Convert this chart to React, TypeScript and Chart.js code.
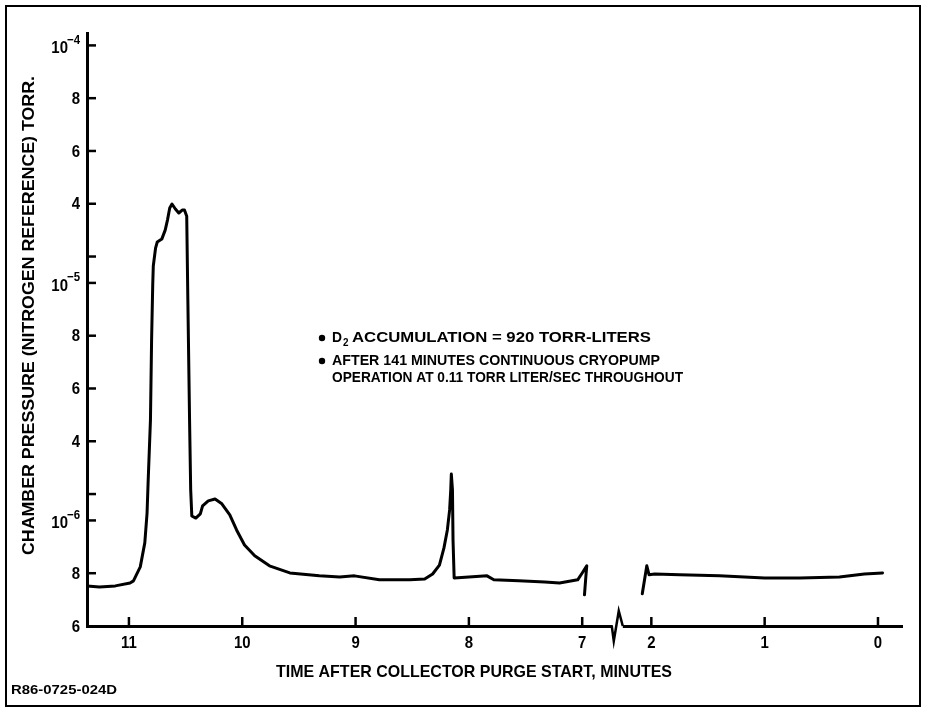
import React, { useEffect, useRef } from "react";
import { Chart, registerables } from "chart.js";

Chart.register(...registerables);

// ---- data (time after collector purge start, minutes; chamber pressure, torr) ----
// segment before the axis break (11 -> 7 minutes)
const leftTimes = [
  11.37, 11.26, 11.12, 10.99, 10.96, 10.9, 10.86, 10.84, 10.83, 10.81, 10.8, 10.79,
  10.785, 10.765, 10.75, 10.71, 10.68, 10.66, 10.64, 10.62, 10.59, 10.56, 10.53, 10.51,
  10.49, 10.48, 10.465, 10.455, 10.445, 10.41, 10.37, 10.35, 10.3, 10.24, 10.18, 10.11,
  10.05, 9.98, 9.89, 9.76, 9.58, 9.32, 9.14, 9.01, 8.79, 8.52, 8.39, 8.32, 8.26, 8.22,
  8.19, 8.17, 8.16, 8.155, 8.145, 8.14, 8.13, 8.0, 7.84, 7.78, 7.56, 7.33, 7.2, 7.04,
  7.0, 6.96, 6.97, 6.98,
];
const leftPressures = [
  7.52e-7, 7.48e-7, 7.52e-7, 7.63e-7, 7.71e-7, 8.24e-7, 9.15e-7, 1.28e-6, 2.53e-6, 4.81e-6, 7.84e-6, 9.92e-6,
  1.64e-5, 2.32e-5, 2.55e-5, 2.66e-5, 3.0e-5, 3.38e-5, 3.84e-5, 3.99e-5, 3.8e-5, 3.65e-5, 3.76e-5, 3.76e-5,
  3.53e-5, 9.35e-6, 4.81e-6, 2.16e-6, 1.17e-6, 1.09e-6, 1.25e-6, 1.55e-6, 1.74e-6, 1.81e-6, 1.63e-6, 1.21e-6,
  9.64e-7, 9.07e-7, 8.66e-7, 8.28e-7, 8.01e-7, 7.9e-7, 7.86e-7, 7.9e-7, 7.75e-7, 7.75e-7, 7.78e-7, 7.97e-7, 8.31e-7, 8.96e-7,
  9.64e-7, 1.4e-6, 2.16e-6, 2.76e-6, 2.16e-6, 9.26e-7, 7.82e-7, 7.86e-7, 7.9e-7, 7.75e-7, 7.71e-7, 7.67e-7, 7.63e-7, 7.75e-7,
  8.01e-7, 8.28e-7, 7.75e-7, 7.18e-7,
];
// segment after the axis break (2 -> 0 minutes)
const rightTimes = [2.08, 2.06, 2.04, 2.02, 1.97, 1.75, 1.4, 1.0, 0.69, 0.34, 0.12, -0.04];
const rightPressures = [7.22e-7, 7.75e-7, 8.28e-7, 7.94e-7, 7.97e-7, 7.94e-7, 7.9e-7, 7.82e-7, 7.82e-7, 7.86e-7, 7.97e-7, 8.01e-7];

const xTickValues = [11, 10, 9, 8, 7, 2, 1, 0];
const xTickLabels = ["11", "10", "9", "8", "7", "2", "1", "0"];
const yTickValues = [1e-4, 8e-5, 6e-5, 4e-5, 2e-5, 1e-5, 8e-6, 6e-6, 4e-6, 2e-6, 1e-6, 8e-7, 6e-7];
const yTickLabels = ["10|-4", "8", "6", "4", "", "10|-5", "8", "6", "4", "", "10|-6", "8", "6"];

const yTitle = "CHAMBER PRESSURE (NITROGEN REFERENCE) TORR.";
const xTitle = "TIME AFTER COLLECTOR PURGE START, MINUTES";
const noteLines = [
  "ACCUMULATION = 920 TORR-LITERS",
  "AFTER 141 MINUTES CONTINUOUS CRYOPUMP",
  "OPERATION AT 0.11 TORR LITER/SEC THROUGHOUT",
];
const figureId = "R86-0725-024D";

// ---- axis transforms ----
const BREAK_HIGH = 7;
const BREAK_LOW = 2;
const BREAK_GAP = 0.61; // visual width of the broken interval, in minutes
const shiftHigh = (t: number) => t - (BREAK_HIGH - BREAK_LOW) + BREAK_GAP;
const xPosOfTick = (t: number) => (t >= BREAK_HIGH ? shiftHigh(t) : t);
// pressure axis is linear within each decade (each decade = 9 units)
const yPos = (p: number) => {
  const e = Math.floor(Math.log10(p) + 1e-9);
  const m = p / Math.pow(10, e);
  return 9 * (e + 6) + (m - 1);
};

const FONT = '"Liberation Sans", Arial, sans-serif';

function fitText(ctx: CanvasRenderingContext2D, str: string, x0: number, x1: number, y: number, size: number) {
  ctx.save();
  ctx.font = `bold ${size}px ${FONT}`;
  ctx.textBaseline = "middle";
  ctx.textAlign = "left";
  const w = ctx.measureText(str).width;
  ctx.translate(x0, y);
  ctx.scale((x1 - x0) / w, 1);
  ctx.fillText(str, 0, 0);
  ctx.restore();
}

function txt(ctx: CanvasRenderingContext2D, str: string, x: number, y: number, size: number, align: CanvasTextAlign, sx = 0.88) {
  ctx.save();
  ctx.font = `bold ${size}px ${FONT}`;
  ctx.textBaseline = "middle";
  ctx.textAlign = align;
  ctx.translate(x, y);
  ctx.scale(sx, 1);
  ctx.fillText(str, 0, 0);
  ctx.restore();
  return ctx;
}

function width(ctx: CanvasRenderingContext2D, str: string, size: number, sx = 0.88) {
  ctx.save();
  ctx.font = `bold ${size}px ${FONT}`;
  const w = ctx.measureText(str).width * sx;
  ctx.restore();
  return w;
}

const decor = {
  id: "decor",
  afterDraw(chart: any) {
    const ctx: CanvasRenderingContext2D = chart.ctx;
    const xs = chart.scales.x;
    const ys = chart.scales.y;
    const area = chart.chartArea;
    ctx.save();
    ctx.strokeStyle = "#000";
    ctx.fillStyle = "#000";
    ctx.lineCap = "butt";

    // y ticks + labels
    ctx.lineWidth = 2.5;
    yTickValues.forEach((v, i) => {
      const py = ys.getPixelForValue(yPos(v));
      if (i < yTickValues.length - 1) {
        ctx.beginPath();
        ctx.moveTo(area.left, py);
        ctx.lineTo(area.left + 9, py);
        ctx.stroke();
      }
      const lab = yTickLabels[i];
      if (!lab) return;
      const right = area.left - 7;
      if (lab.includes("|")) {
        const [base, sup] = lab.split("|");
        const supStr = sup.replace("-", "\u2212");
        const ws = width(ctx, supStr, 13);
        txt(ctx, supStr, right, py - 5, 13, "right");
        txt(ctx, base, right - ws + 1, py + 3, 17, "right");
      } else {
        txt(ctx, lab, right, py + 1, 17, "right");
      }
    });

    // x ticks + labels
    const axisY = area.bottom;
    xTickValues.forEach((t, i) => {
      const px = xs.getPixelForValue(xPosOfTick(t));
      ctx.beginPath();
      ctx.moveTo(px, axisY);
      ctx.lineTo(px, axisY - 9);
      ctx.stroke();
      txt(ctx, xTickLabels[i], px, axisY + 17, 17, "center");
    });

    // axis break glyph
    const pa = xs.getPixelForValue(xPosOfTick(BREAK_HIGH));
    const pb = xs.getPixelForValue(xPosOfTick(BREAK_LOW));
    const mid = (pa + pb) / 2;
    ctx.fillStyle = "#fff";
    ctx.fillRect(mid - 4, axisY - 3, 10, 6);
    ctx.fillStyle = "#000";
    ctx.lineWidth = 2.5;
    ctx.lineJoin = "miter";
    ctx.beginPath();
    ctx.moveTo(mid - 5, axisY);
    ctx.lineTo(mid - 3, axisY + 15);
    ctx.lineTo(mid + 2, axisY - 15);
    ctx.lineTo(mid + 6, axisY);
    ctx.stroke();

    // axis titles
    ctx.save();
    ctx.translate(30, 0);
    ctx.rotate(-Math.PI / 2);
    fitText(ctx, yTitle, -555, -76, 0, 16);
    ctx.restore();
    fitText(ctx, xTitle, 276, 672, 672, 17);

    // notes
    const bx = 322;
    const ly = [338, 361, 378];
    [0, 1].forEach((k) => {
      ctx.beginPath();
      ctx.arc(bx, ly[k], 3.2, 0, Math.PI * 2);
      ctx.fill();
    });
    fitText(ctx, "D", 332, 342, ly[0], 15);
    txt(ctx, "2", 343, ly[0] + 5, 11, "left", 0.9);
    fitText(ctx, noteLines[0], 352, 651, ly[0], 15);
    fitText(ctx, noteLines[1], 332, 660, ly[1], 15);
    fitText(ctx, noteLines[2], 332, 683, ly[2], 15);

    // figure id
    fitText(ctx, figureId, 11, 117, 690, 13);

    // frame
    ctx.lineWidth = 2;
    ctx.strokeRect(6, 6, 914, 700);
    ctx.restore();
  },
};

export default function App() {
  const ref = useRef<HTMLCanvasElement | null>(null);
  useEffect(() => {
    if (!ref.current) return;
    const chart = new Chart(ref.current, {
      type: "line",
      data: {
        datasets: [
          {
            data: leftTimes.map((t, i) => ({ x: shiftHigh(t), y: yPos(leftPressures[i]) })),
            borderColor: "#000",
            borderWidth: 3,
            pointRadius: 0,
            tension: 0,
            borderJoinStyle: "round",
            borderCapStyle: "round",
          },
          {
            data: rightTimes.map((t, i) => ({ x: t, y: yPos(rightPressures[i]) })),
            borderColor: "#000",
            borderWidth: 3,
            pointRadius: 0,
            tension: 0,
            borderJoinStyle: "round",
            borderCapStyle: "round",
          },
        ],
      },
      options: {
        animation: false,
        responsive: true,
        maintainAspectRatio: false,
        parsing: false,
        layout: { padding: { top: 33, right: 24, left: 0, bottom: 0 } },
        plugins: { legend: { display: false }, tooltip: { enabled: false } },
        scales: {
          x: {
            type: "linear",
            reverse: true,
            min: -0.212,
            max: 6.98,
            grid: { display: false },
            border: { display: true, color: "#000", width: 3 },
            ticks: { display: false },
            afterFit: (s: any) => {
              s.height = 83;
            },
          },
          y: {
            type: "linear",
            min: -4,
            max: 18.47,
            grid: { display: false },
            border: { display: true, color: "#000", width: 3 },
            ticks: { display: false },
            afterFit: (s: any) => {
              s.width = 87;
            },
          },
        },
      },
      plugins: [decor],
    } as any);
    return () => chart.destroy();
  }, []);
  return (
    <div style={{ position: "fixed", left: 0, top: 0, width: 926, height: 709, background: "#fff" }}>
      <canvas ref={ref} />
    </div>
  );
}
